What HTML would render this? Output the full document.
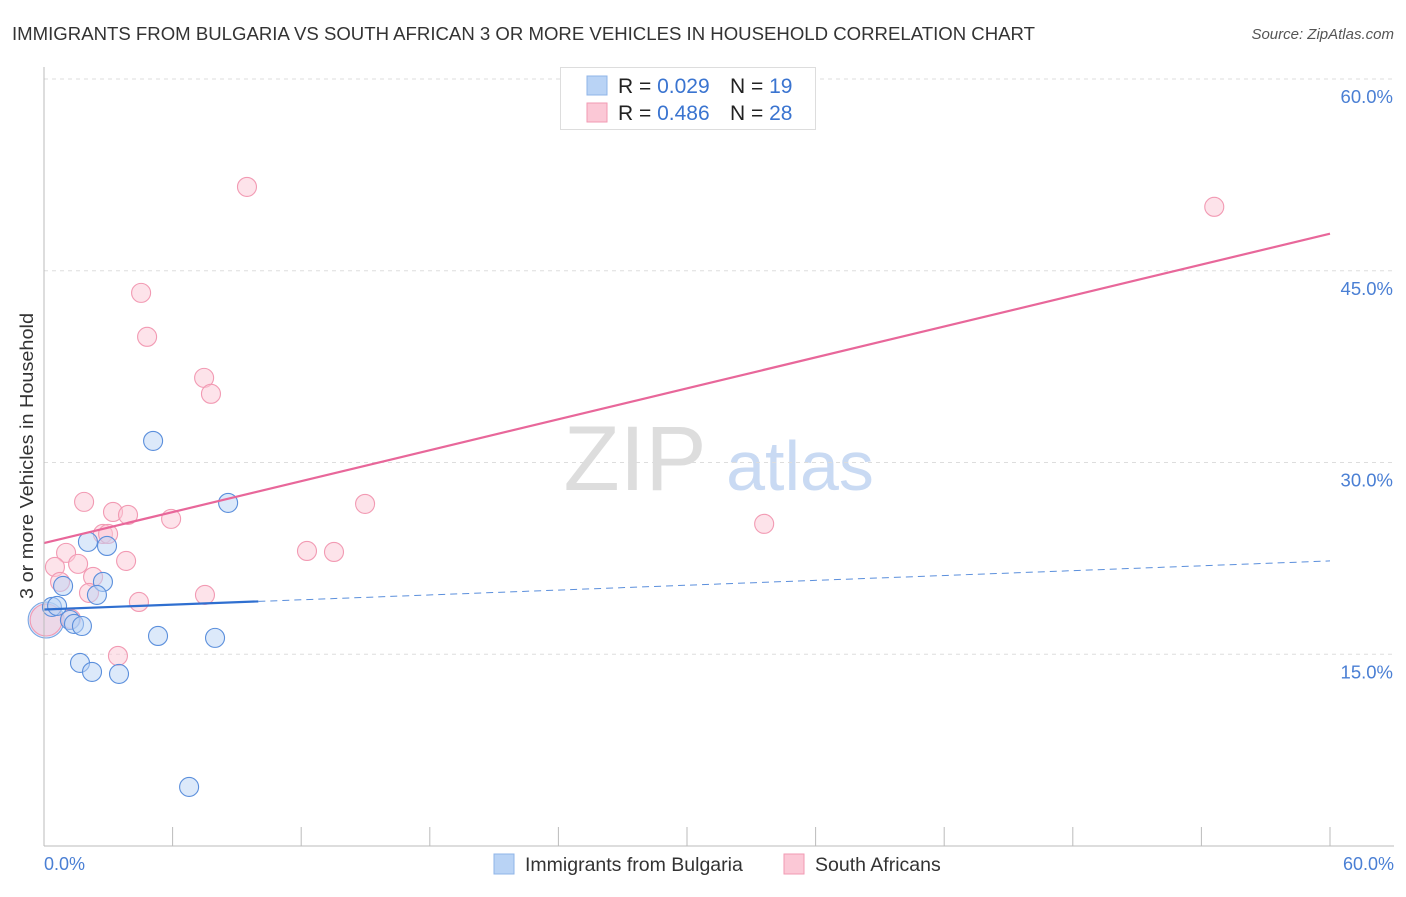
<!DOCTYPE html>
<html><head><meta charset="utf-8"><style>
body{margin:0;background:#fff;font-family:"Liberation Sans",sans-serif;}
svg text{font-family:"Liberation Sans",sans-serif;}
</style></head><body>
<svg id="chart" width="1406" height="892">
<text x="12" y="40" font-size="18" fill="#333" textLength="1023" lengthAdjust="spacingAndGlyphs">IMMIGRANTS FROM BULGARIA VS SOUTH AFRICAN 3 OR MORE VEHICLES IN HOUSEHOLD CORRELATION CHART</text>
<text x="1394" y="39" font-size="15" fill="#555" font-style="italic" text-anchor="end">Source: ZipAtlas.com</text>
<text x="33" y="456" font-size="18" fill="#333" text-anchor="middle" transform="rotate(-90 33 456)" textLength="286" lengthAdjust="spacingAndGlyphs">3 or more Vehicles in Household</text>
<text x="635" y="490" font-size="92" fill="#ddd" font-family="Liberation Serif" text-anchor="middle">ZIP</text>
<text x="800" y="490" font-size="70" fill="#c9daf3" text-anchor="middle">atlas</text>
<g id="grid"></g><g id="marks"></g>
<line x1="44" y1="67" x2="44" y2="846" stroke="#bbb"/>
<line x1="44" y1="846" x2="1394" y2="846" stroke="#bbb"/>
<text x="44" y="870" font-size="18" fill="#4a7fd4">0.0%</text>
<text x="1394" y="870" font-size="18" fill="#4a7fd4" text-anchor="end">60.0%</text>
<g>
<rect x="560.5" y="67.5" width="255" height="62" fill="#fff" stroke="#ddd"/>
<rect x="587" y="76" width="20" height="19" fill="#b9d3f5" stroke="#8fb4e8"/>
<rect x="587" y="103" width="20" height="19" fill="#fbc8d6" stroke="#f29ab3"/>
<text x="618" y="93" font-size="21" fill="#222">R = <tspan fill="#3a74d0">0.029</tspan></text>
<text x="730" y="93" font-size="21" fill="#222">N = <tspan fill="#3a74d0"> 19</tspan></text>
<text x="618" y="120" font-size="21" fill="#222">R = <tspan fill="#3a74d0">0.486</tspan></text>
<text x="730" y="120" font-size="21" fill="#222">N = <tspan fill="#3a74d0">28</tspan></text>
</g>
<g>
<rect x="494" y="854" width="20" height="20" fill="#b9d3f5" stroke="#8fb4e8"/>
<text x="525" y="871" font-size="19.5" fill="#333">Immigrants from Bulgaria</text>
<rect x="784" y="854" width="20" height="20" fill="#fbc8d6" stroke="#f29ab3"/>
<text x="815" y="871" font-size="19.5" fill="#333">South Africans</text>
</g>
</svg>
<script>
const yTicks=[15,30,45,60];
const blueX=[5.09,8.59,2.05,2.94,0.89,2.75,2.47,0.37,0.61,1.21,1.40,1.77,1.68,2.24,3.50,5.32,7.98,6.77];
const blueY=[31.69,26.84,23.79,23.47,20.34,20.66,19.64,18.70,18.78,17.68,17.37,17.21,14.32,13.62,13.46,16.43,16.28,4.62];
const pinkX=[9.47,54.6,4.53,4.81,7.47,7.79,1.87,14.98,3.22,3.92,5.93,2.75,2.99,1.03,12.27,13.53,33.6,0.51,1.59,3.83,2.29,0.75,2.10,7.51,4.43,1.26,3.45];
const pinkY=[51.56,50.0,43.27,39.83,36.62,35.37,26.92,26.76,26.13,25.9,25.59,24.41,24.41,22.93,23.08,23.0,25.2,21.83,22.07,22.3,21.05,20.66,19.8,19.64,19.09,17.76,14.87];
const pinkTrend=[23.7,47.9];
const blueTrend=[18.5,22.3];
const blueSolidEnd=10;
const X=v=>44+v*1286/60, Y=v=>846-v*767/60;
const NS="http://www.w3.org/2000/svg";
const grid=document.getElementById('grid'), marks=document.getElementById('marks');
function mk(tag,attrs,parent){const e=document.createElementNS(NS,tag);for(const k in attrs)e.setAttribute(k,attrs[k]);parent.appendChild(e);return e;}
yTicks.forEach(t=>{
 const l=mk('line',{x1:44,x2:1394,y1:Y(t),y2:Y(t),stroke:'#ddd','stroke-dasharray':'4,4'},grid);
 
 
 const tx=mk('text',{x:1393,y:Y(t)+24,'font-size':18.5,fill:'#4a7fd4','text-anchor':'end'},grid);
 tx.textContent=t.toFixed(1)+'%';
 
 
});
for(let i=1;i<=10;i++){const l=mk('line',{x1:44+i*128.6,x2:44+i*128.6,y1:827,y2:846,stroke:'#bbb'},grid);
 
 }
function dot(x,y,r,c,s,name){const e=mk('circle',{cx:X(x),cy:Y(y),r:r,fill:c,'fill-opacity':0.5,stroke:s,'stroke-width':1.1},marks);
 
 }
dot(0.1,17.68,18,'#b9d3f5','#7aa6e3','blue-point-large');
dot(0.1,17.68,16,'#fbc8d6','#f29ab3','pink-point-large');
pinkX.forEach((x,i)=>dot(x,pinkY[i],9.5,'#fbc8d6','#f29ab3','pink-point'));
blueX.forEach((x,i)=>dot(x,blueY[i],9.5,'#b9d3f5','#5b8fdc','blue-point'));
const pl=mk('line',{x1:X(0),y1:Y(pinkTrend[0]),x2:X(60),y2:Y(pinkTrend[1]),stroke:'#e8679a','stroke-width':2.2},marks);


const bm=blueTrend[0]+(blueTrend[1]-blueTrend[0])*blueSolidEnd/60;
const bl=mk('line',{x1:X(0),y1:Y(blueTrend[0]),x2:X(blueSolidEnd),y2:Y(bm),stroke:'#2f6fd0','stroke-width':2.2},marks);


const bd=mk('line',{x1:X(blueSolidEnd),y1:Y(bm),x2:X(60),y2:Y(blueTrend[1]),stroke:'#5b8fdc','stroke-width':1,'stroke-dasharray':'7,5'},marks);


</script>
</body></html>
